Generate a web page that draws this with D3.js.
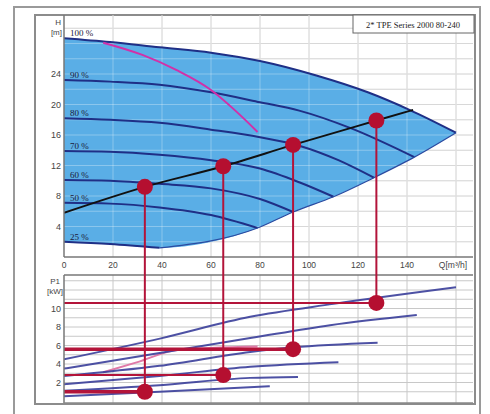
<!DOCTYPE html>
<html><head><meta charset="utf-8">
<script src="https://cdn.jsdelivr.net/npm/d3@7"></script>
<style>body{margin:0;background:#fff}svg{display:block}</style>
</head><body>
<script>
// ---------- data ----------
const qTicks = [0, 20, 40, 60, 80, 100, 120, 140];
const hTicks = [4, 8, 12, 16, 20, 24];
const pTicks = [2, 4, 6, 8, 10];
const speedLabels = ["100 %", "90 %", "80 %", "70 %", "60 %", "50 %", "25 %"];
const legendText = "2* TPE Series 2000 80-240";

// QH curves [Q m3/h, H m]
const speed100 = [[0,28.7],[18.8,28.2],[39,27.5],[60,26.8],[80,25.7],[103,23.8],[124,21.6],[141,19.3],[160,16.3]];
const speed90  = [[0,23.2],[18.8,23.0],[39,22.6],[60,21.6],[80,20.3],[96,19.2],[117,16.9],[143,13.1]];
const speed80  = [[0,18.2],[18.8,18.0],[39,17.6],[60,16.7],[80,15.7],[96,14.6],[112,12.7],[126.5,10.4]];
const speed70  = [[0,13.9],[18.8,13.8],[39,13.4],[60,12.7],[80,11.6],[96,9.8],[110,7.9]];
const speed60  = [[0,10.1],[18.8,10.0],[39,9.6],[60,9.0],[80,7.6],[93.5,5.9]];
const speed50  = [[0,7.1],[18.8,7.0],[39,6.5],[60,5.5],[79,3.8]];
const speed25  = [[0,2.0],[18.8,1.7],[39,1.2]];
const lowerEdge = [[0,2.0],[18.8,1.7],[39,1.2],[79,3.8],[93.5,5.9],[110,7.9],[126.5,10.4],[143,13.1],[160,16.3]];
const maxEffH  = [[16,28.1],[32,26.5],[46,24.5],[60,21.9],[70.6,19.0],[79,16.4]];
const systemH  = [[0,5.8],[33,9.2],[65,11.9],[93.5,14.7],[127.5,17.9],[142.5,19.3]];

// Power curves [Q, P1 kW]
const power100 = [[0,4.5],[40,6.8],[76,9.1],[110,10.5],[160,12.3]];
const power90  = [[0,3.5],[39,5.2],[76,6.8],[108.6,8.2],[144,9.3]];
const power80  = [[0,2.7],[39,3.8],[76,5.3],[93.5,5.8],[128,6.3]];
const power70  = [[0,1.8],[39,2.7],[76,3.7],[112,4.2]];
const power60  = [[0,1.1],[39,1.7],[76,2.5],[95.5,2.6]];
const power50  = [[0,0.5],[39,1.0],[84,1.6]];
const powerMaxEff = [[16,3.1],[30,4.2],[46,5.5],[79,5.9]];

// Duty points
const dutyQ = [33, 65, 93.5, 127.5];
const dutyH = [9.2, 11.9, 14.7, 17.9];
const dutyP = [1.0, 2.8, 5.6, 10.6];

// ---------- drawing ----------
(function(){
const W = 490, H = 414;
const svg = d3.select("body").append("svg").attr("width", W).attr("height", H);

const x = d3.scaleLinear().domain([0,160]).range([64,456]);
const yH = d3.scaleLinear().domain([0,28]).range([257,43.5]);
const yP = d3.scaleLinear().domain([0,10]).range([401,308.5]);

const topA = {x0:64, x1:473, y0:15, y1:257};
const botA = {x0:64, x1:473, y0:275, y1:403};

// outer frame
svg.append("rect").attr("x",14).attr("y",7).attr("width",466).attr("height",410)
  .attr("fill","#fff").attr("stroke","#9a9a9a").attr("stroke-width",2);
svg.append("rect").attr("x",35).attr("y",15).attr("width",440).attr("height",389)
  .attr("fill","#fff").attr("stroke","#8c8c8c").attr("stroke-width",2);

const defs = svg.append("defs");
defs.append("clipPath").attr("id","ct").append("rect")
  .attr("x",topA.x0).attr("y",topA.y0).attr("width",topA.x1-topA.x0).attr("height",topA.y1-topA.y0);
defs.append("clipPath").attr("id","cb").append("rect")
  .attr("x",botA.x0).attr("y",botA.y0).attr("width",botA.x1-botA.x0).attr("height",botA.y1-botA.y0);

function grid(g, yScale, step, area, color, op){
  const xs = d3.range(20, 170, 20);
  g.selectAll(null).data(xs).enter().append("line")
    .attr("x1",d=>x(d)).attr("x2",d=>x(d)).attr("y1",area.y0).attr("y2",area.y1)
    .attr("stroke",color).attr("stroke-opacity",op).attr("stroke-width",1);
  const lo = yScale.invert(area.y1), hi = yScale.invert(area.y0);
  const ys = d3.range(Math.ceil(lo/step)*step, hi, step).filter(v=>v>0.01);
  g.selectAll(null).data(ys).enter().append("line")
    .attr("x1",area.x0).attr("x2",area.x1).attr("y1",d=>yScale(d)).attr("y2",d=>yScale(d))
    .attr("stroke",color).attr("stroke-opacity",op).attr("stroke-width",1);
}

// ---- top plot ----
const gT = svg.append("g").attr("clip-path","url(#ct)");
grid(gT, yH, 2, topA, "#c8c8c8", 1);

const lineC = d3.line().x(d=>x(d[0])).y(d=>yH(d[1])).curve(d3.curveMonotoneX);
const lowerRev = lowerEdge.slice().reverse();
const fillPath = lineC(speed100) + lineC(lowerRev).replace(/^M/,"L") + "Z";
gT.append("path").attr("d", fillPath).attr("fill","#5aaee6");
grid(gT, yH, 2, topA, "#ffffff", 0.3);

const speeds = [speed100, speed90, speed80, speed70, speed60, speed50, speed25];
gT.selectAll(null).data(speeds).enter().append("path")
  .attr("d", d=>lineC(d)).attr("fill","none").attr("stroke","#1f2f86").attr("stroke-width",2);
gT.append("path").attr("d", lineC(lowerEdge.slice(2))).attr("fill","none")
  .attr("stroke","#2a4aa0").attr("stroke-width",1.2);
gT.append("path").attr("d", lineC(maxEffH)).attr("fill","none")
  .attr("stroke","#d230a8").attr("stroke-width",2);
gT.append("path").attr("d", lineC(systemH)).attr("fill","none")
  .attr("stroke","#111").attr("stroke-width",2);

// speed labels
speeds.forEach((s,i)=>{
  svg.append("text").attr("x",70).attr("y",yH(s[0][1])-2)
    .attr("font-family","Liberation Serif, serif").attr("font-size",9).attr("fill","#1a1a3a")
    .text(speedLabels[i]);
});

// legend box
svg.append("rect").attr("x",353).attr("y",15).attr("width",121).attr("height",18)
  .attr("fill","#fff").attr("stroke","#666").attr("stroke-width",1);
svg.append("text").attr("x",413).attr("y",27.5).attr("text-anchor","middle")
  .attr("font-family","Liberation Serif, serif").attr("font-size",8.5).attr("fill","#222")
  .text(legendText);

// frame lines top plot
svg.append("line").attr("x1",topA.x0).attr("x2",topA.x0).attr("y1",topA.y0).attr("y2",topA.y1)
  .attr("stroke","#777").attr("stroke-width",1.5);
svg.append("line").attr("x1",topA.x0).attr("x2",topA.x1).attr("y1",topA.y1).attr("y2",topA.y1)
  .attr("stroke","#777").attr("stroke-width",1.5);

// axes labels
const tickFont = "Liberation Sans, Arial, sans-serif";
svg.selectAll(null).data(hTicks).enter().append("text")
  .attr("x",61).attr("y",d=>yH(d)+3).attr("text-anchor","end")
  .attr("font-family",tickFont).attr("font-size",9).attr("fill","#444").text(d=>d);
svg.append("text").attr("x",61).attr("y",25).attr("text-anchor","end")
  .attr("font-family",tickFont).attr("font-size",8).attr("fill","#444").text("H");
svg.append("text").attr("x",62).attr("y",35).attr("text-anchor","end")
  .attr("font-family",tickFont).attr("font-size",8).attr("fill","#444").text("[m]");
svg.selectAll(null).data(qTicks).enter().append("text")
  .attr("x",d=>x(d)).attr("y",268).attr("text-anchor","middle")
  .attr("font-family",tickFont).attr("font-size",8.5).attr("fill","#444").text(d=>d);
svg.append("text").attr("x",x(160)-3).attr("y",268).attr("text-anchor","middle")
  .attr("font-family",tickFont).attr("font-size",8.5).attr("fill","#444").text("Q[m³/h]");

// ---- bottom plot ----
const gB = svg.append("g").attr("clip-path","url(#cb)");
grid(gB, yP, 1, botA, "#c8c8c8", 1);
const lineP = d3.line().x(d=>x(d[0])).y(d=>yP(d[1])).curve(d3.curveMonotoneX);
const powers = [power100, power90, power80, power70, power60, power50];
gB.append("path").attr("d", lineP(powerMaxEff)).attr("fill","none")
  .attr("stroke","#e07aa8").attr("stroke-width",2);
gB.selectAll(null).data(powers).enter().append("path")
  .attr("d", d=>lineP(d)).attr("fill","none").attr("stroke","#3a3e9a").attr("stroke-width",2)
  .attr("stroke-opacity",0.9);
const hw = [3.5, 2, 3.5, 2];
gB.selectAll(null).data(dutyQ).enter().append("line")
  .attr("x1",botA.x0).attr("x2",(d)=>x(d)).attr("y1",(d,i)=>yP(dutyP[i])).attr("y2",(d,i)=>yP(dutyP[i]))
  .attr("stroke","#b3143a").attr("stroke-width",(d,i)=>hw[i]);

svg.append("line").attr("x1",botA.x0).attr("x2",botA.x0).attr("y1",botA.y0).attr("y2",botA.y1)
  .attr("stroke","#777").attr("stroke-width",1.5);
svg.append("line").attr("x1",botA.x0).attr("x2",botA.x1).attr("y1",botA.y0).attr("y2",botA.y0)
  .attr("stroke","#777").attr("stroke-width",1.5);
svg.append("line").attr("x1",botA.x0).attr("x2",botA.x1).attr("y1",botA.y1).attr("y2",botA.y1)
  .attr("stroke","#888").attr("stroke-width",1.5);

svg.selectAll(null).data(pTicks).enter().append("text")
  .attr("x",61).attr("y",d=>yP(d)+3).attr("text-anchor","end")
  .attr("font-family",tickFont).attr("font-size",9).attr("fill","#444").text(d=>d);
svg.append("text").attr("x",60).attr("y",284).attr("text-anchor","end")
  .attr("font-family",tickFont).attr("font-size",8).attr("fill","#444").text("P1");
svg.append("text").attr("x",63).attr("y",294).attr("text-anchor","end")
  .attr("font-family",tickFont).attr("font-size",8).attr("fill","#444").text("[kW]");

// vertical duty lines and dots
svg.selectAll(null).data(dutyQ).enter().append("line")
  .attr("x1",d=>x(d)).attr("x2",d=>x(d)).attr("y1",(d,i)=>yH(dutyH[i])).attr("y2",(d,i)=>yP(dutyP[i]))
  .attr("stroke","#b3143a").attr("stroke-width",2);
svg.selectAll(null).data(dutyQ).enter().append("circle")
  .attr("cx",d=>x(d)).attr("cy",(d,i)=>yH(dutyH[i])).attr("r",8).attr("fill","#b50f30");
svg.selectAll(null).data(dutyQ).enter().append("circle")
  .attr("cx",d=>x(d)).attr("cy",(d,i)=>yP(dutyP[i])).attr("r",8).attr("fill","#b50f30");
})();
</script>
</body></html>
